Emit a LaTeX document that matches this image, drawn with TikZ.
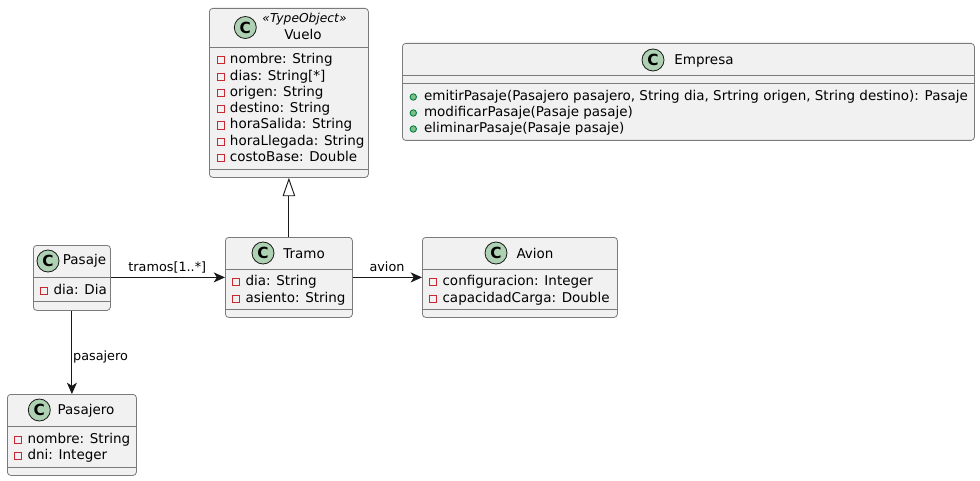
\documentclass[tikz,border=0pt]{standalone}
\usepackage{fontspec}
\setmainfont{DejaVu Sans}
\usetikzlibrary{arrows.meta}
\definecolor{boxfill}{HTML}{F1F1F1}
\definecolor{boxline}{HTML}{7B7B7B}
\definecolor{circfill}{HTML}{ADD1B2}
\definecolor{privred}{HTML}{C82930}
\definecolor{pubgreen}{HTML}{84BE84}
\definecolor{publine}{HTML}{038048}
\definecolor{edge}{HTML}{181818}
\tikzset{x=0.75pt,y=-0.75pt,
 classbox/.style={draw=boxline,fill=boxfill,line width=0.6pt,rounded corners=2.5pt,inner sep=0pt,anchor=north west},
 sepline/.style={draw=boxline,line width=0.6pt},
 member/.style={anchor=west,inner sep=0pt,font=\fontsize{10.12}{12}\selectfont,text=black,text height=7.6pt,text depth=2pt},
 title/.style={anchor=center,inner sep=0pt,font=\fontsize{10.12}{12}\selectfont,text=black},
 stereo/.style={anchor=center,inner sep=0pt,font=\fontsize{9.2}{11}\selectfont\itshape,text=black},
 elabel/.style={anchor=center,inner sep=0pt,font=\fontsize{9.6}{11}\selectfont,text=black},
 circ/.style={circle,draw=edge,fill=circfill,line width=0.6pt,minimum size=16.5pt,inner sep=0pt,font=\fontsize{11.5}{12}\bfseries\selectfont,text=black},
 privmark/.style={draw=privred,line width=0.8pt,fill=none,minimum size=5.4pt,inner sep=0pt,rectangle},
 pubmark/.style={circle,draw=publine,fill=pubgreen,line width=0.7pt,minimum size=4.8pt,inner sep=0pt},
 conn/.style={draw=edge,line width=0.7pt,-{Stealth[length=8.5pt,width=7.5pt,inset=2.4pt]}},
 inherit/.style={draw=edge,line width=0.7pt,-{Triangle[open,length=13.8pt,width=9.4pt,fill=white]}},
}
\newcommand{\classbody}[7]{%name x0 y0 x1 y1 sep1 sep2
 \node[classbox,minimum width={(#4-#2)*0.75pt},minimum height={(#5-#3)*0.75pt}] (#1) at (#2,#3) {};
 \draw[sepline] (#2,#6) -- (#4,#6);
 \draw[sepline] (#2,#7) -- (#4,#7);
}
\newcommand{\attr}[4]{%name x y text
 \node[privmark] (#1m) at (#2,#3) {};
 \node[member] (#1) at (#2+9,#3-0.5) {#4};
}
\newcommand{\oper}[4]{%
 \node[pubmark] (#1m) at (#2,#3) {};
 \node[member] (#1) at (#2+10.5,#3-0.5) {#4};
}
\begin{document}
\begin{tikzpicture}
\useasboundingbox (0,0) rectangle (980,481);
% Vuelo
\classbody{vuelo}{209}{8}{368}{177}{47}{169}
\node[circ] (vueloc) at (245.3,27.5) {C};
\node[stereo] (vuelos) at (304.5,19) {«TypeObject»};
\node[title] (vuelot) at (303,34) {Vuelo};
\attr{va}{220.7}{60.3}{nombre: String}
\attr{vb}{220.7}{77}{dias: String[*]}
\attr{vc}{220.7}{93}{origen: String}
\attr{vd}{220.7}{109.3}{destino: String}
\attr{ve}{220.7}{125.5}{horaSalida: String}
\attr{vf}{220.7}{142}{horaLlegada: String}
\attr{vg}{220.7}{158}{costoBase: Double}
% Empresa
\classbody{empresa}{402}{43}{974}{140}{75}{83}
\node[circ] (empresac) at (653,60) {C};
\node[title] (empresat) at (704,60.5) {Empresa};
\oper{ea}{413.3}{97}{emitirPasaje(Pasajero pasajero, String dia, Srtring origen, String destino): Pasaje}
\oper{eb}{413.3}{113}{modificarPasaje(Pasaje pasaje)}
\oper{ec}{413.3}{129}{eliminarPasaje(Pasaje pasaje)}
% Pasaje
\classbody{pasaje}{33}{245}{110}{310}{277}{301}
\node[circ] (pasajec) at (48,261) {C};
\node[title] (pasajet) at (84.5,261) {Pasaje};
\attr{pa}{44.3}{291.3}{dia: Dia}
% Tramo
\classbody{tramo}{225}{237}{352}{317}{269}{309}
\node[circ] (tramoc) at (263,253) {C};
\node[title] (tramot) at (304,253.5) {Tramo};
\attr{ta}{236.3}{282}{dia: String}
\attr{tb}{236.3}{299}{asiento: String}
% Avion
\classbody{avion}{422}{237}{617}{317}{269}{309}
\node[circ] (avionc) at (496,253) {C};
\node[title] (aviont) at (535,253.5) {Avion};
\attr{aa}{433.3}{282}{configuracion: Integer}
\attr{ab}{433.3}{299}{capacidadCarga: Double}
% Pasajero
\classbody{pasajero}{7}{394}{136}{475}{426}{467}
\node[circ] (pasajeroc) at (39.3,410) {C};
\node[title] (pasajerot) at (86,410.5) {Pasajero};
\attr{ja}{18.3}{440}{nombre: String}
\attr{jb}{18.3}{456}{dni: Integer}
% Connectors
\draw[inherit] (tramo.north) -- (vuelo.south);
\draw[conn] (pasaje.east |- tramo.west) -- (tramo.west);
\draw[conn] (tramo.east) -- (avion.west);
\draw[conn] (pasaje.south) -- (pasajero.north);
\node[elabel] (l1) at (167.3,267) {tramos[1..*]};
\node[elabel] (l2) at (387,267) {avion};
\node[elabel] (l3) at (100.5,357) {pasajero};
\end{tikzpicture}
\end{document}
